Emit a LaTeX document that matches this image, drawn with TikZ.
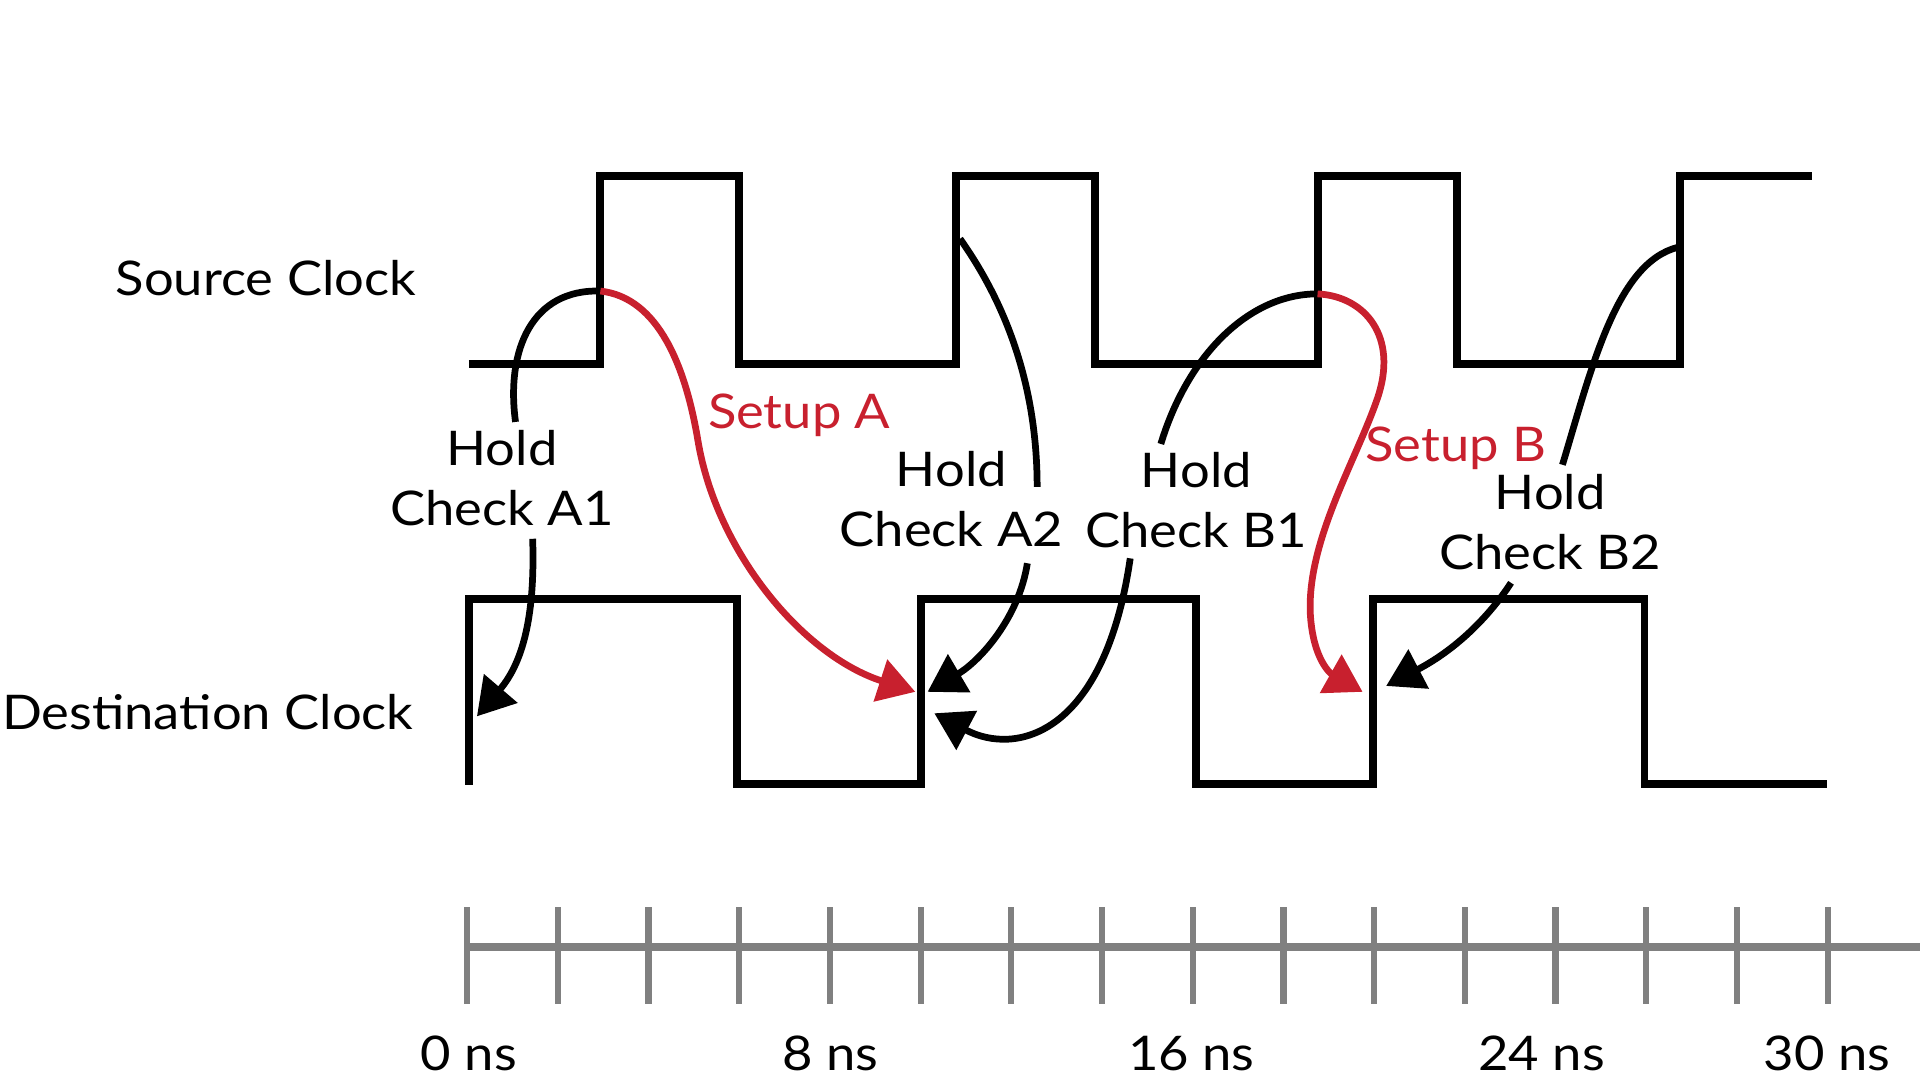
\documentclass[tikz,border=0pt]{standalone}
\usepackage{fontspec}
\setmainfont{Lato}[FakeStretch=1.1]
\usetikzlibrary{arrows.meta}
\definecolor{setupred}{RGB}{200,32,46}
\definecolor{axisgray}{RGB}{128,128,128}
\begin{document}
\begin{tikzpicture}[x=1pt,y=-1pt,
  clk/.style={line width=6.5pt,line join=miter,line cap=butt},
  conn/.style={line width=5.5pt},
  arr/.style={-{Triangle[length=30pt,width=35pt]}},
  lbl/.style={font=\fontsize{39}{49}\selectfont,inner sep=0pt,align=center},
  tick/.style={axisgray,line width=5pt}]
\useasboundingbox (0,0) rectangle (1568,882);
\fill[white] (0,0) rectangle (1568,882);
% clocks
\draw[clk] (383,297.3) -- (490.3,297.3) -- (490.3,143.7) -- (603.8,143.7) -- (603.8,297.3)
  -- (781,297.3) -- (781,143.7) -- (894,143.7) -- (894,297.3) -- (1076,297.3) -- (1076,143.7)
  -- (1190,143.7) -- (1190,297.3) -- (1372,297.3) -- (1372,143.7) -- (1480,143.7);
\draw[clk] (383.3,641) -- (383.3,489.4) -- (602,489.4) -- (602,640) -- (752,640) -- (752,489.4)
  -- (977,489.4) -- (977,640) -- (1121,640) -- (1121,489.4) -- (1343,489.4) -- (1343,640) -- (1492,640);
% clock labels
\node[lbl,anchor=base east] (src) at (340,241) {Source Clock};
\node[lbl,anchor=base east] (dst) at (338,596) {Destination Clock};
% check labels
\node[lbl,anchor=south] (hA1) at (410,430) {Hold\\Check A1};
\node[lbl,anchor=south] (hA2) at (777,447) {Hold\\Check A2};
\node[lbl,anchor=south] (hB1) at (977,448) {Hold\\Check B1};
\node[lbl,anchor=south] (hB2) at (1266,466) {Hold\\Check B2};
\node[lbl,anchor=base west,text=setupred] (suA) at (578,350) {Setup A};
\node[lbl,anchor=base west,text=setupred] (suB) at (1115,377) {Setup B};
% endpoints on clocks
\coordinate (sA) at (490.3,237.7);
\coordinate (sA2) at (784,195);
\coordinate (sB) at (1076,240);
\coordinate (sB2) at (1370,202);
\coordinate (dA1) at (389.5,585);
\coordinate (dA) at (747.5,565);
\coordinate (dA2) at (757.5,565);
\coordinate (dB1) at (763,582.5);
\coordinate (dB) at (1112.8,565);
\coordinate (dB2) at (1132,560.2);
% hold A1
\draw[conn] (sA) .. controls (435,236) and (413,285) .. ([xshift=11pt,yshift=7pt]hA1.north);
\draw[conn,arr] ([xshift=25pt,yshift=-10pt]hA1.south) .. controls (437,500) and (428,540) .. (dA1);
% setup A
\draw[conn,setupred,arr] (sA) .. controls (538,243) and (560,300) .. (570,360)
  .. controls (585,450) and (655,535) .. (dA);
% hold A2
\draw[conn] (sA2) .. controls (830,260) and (847,330) .. ([xshift=70pt,yshift=-29pt]hA2.north);
\draw[conn,arr] ([xshift=62pt,yshift=-13pt]hA2.south) .. controls (832,505) and (800,540) .. (dA2);
% hold B1
\draw[conn] (sB) .. controls (1020,240) and (970,290) .. ([xshift=-29pt,yshift=7pt]hB1.north);
\draw[conn,arr] ([xshift=-54pt,yshift=-8pt]hB1.south) .. controls (902,600) and (830,618) .. (dB1);
% setup B
\draw[conn,setupred,arr] (sB) .. controls (1115,242) and (1142,275) .. (1125,325)
  .. controls (1108,375) and (1068,440) .. (1070,500)
  .. controls (1072,540) and (1088,551) .. (dB);
% hold B2
\draw[conn] (sB2) .. controls (1320,215) and (1300,300) .. ([xshift=10pt,yshift=8pt]hB2.north);
\draw[conn,arr] ([xshift=-32pt,yshift=-10pt]hB2.south) .. controls (1215,505) and (1188,531) .. (dB2);
% time axis
\draw[axisgray,line width=6.5pt] (381.5,773) -- (1568,773);
\foreach \i in {0,...,15} \draw[tick] ({381.5+74.07*\i},741) -- ({381.5+74.07*\i},820);
\node[lbl,anchor=base] (t0) at (383,874) {0 ns};
\node[lbl,anchor=base] (t8) at (678,874) {8 ns};
\node[lbl,anchor=base] (t16) at (973,874) {16 ns};
\node[lbl,anchor=base] (t24) at (1259,874) {24 ns};
\node[lbl,anchor=base] (t30) at (1492,874) {30 ns};
\end{tikzpicture}
\end{document}
